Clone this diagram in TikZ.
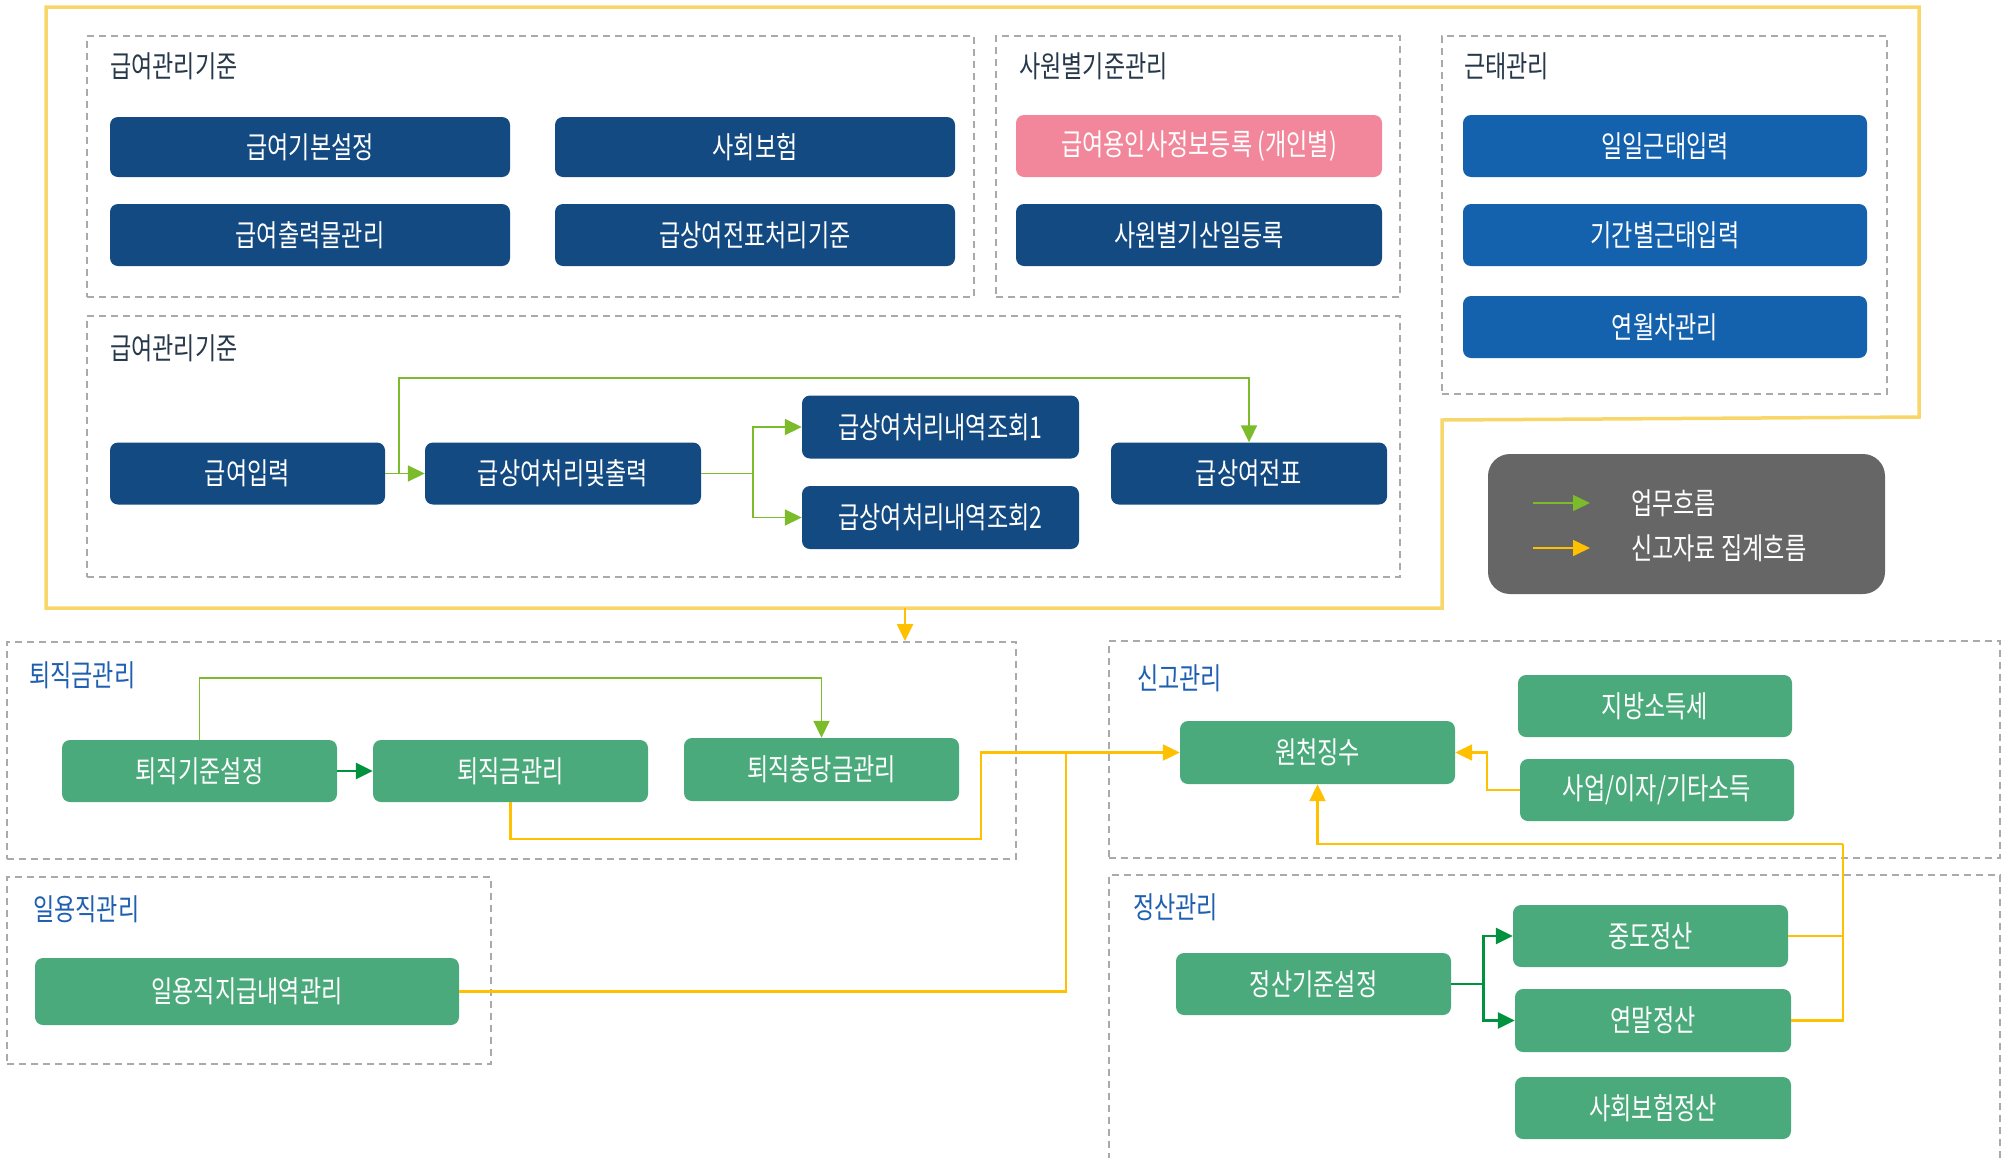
\documentclass[tikz,border=0pt]{standalone}
\usepackage{fontspec}
\setmainfont[FakeStretch=0.77]{Noto Sans CJK KR}
\usetikzlibrary{arrows.meta}
\definecolor{navy}{HTML}{134A82}
\definecolor{bblue}{HTML}{1461AD}
\definecolor{pink}{HTML}{F2879C}
\definecolor{grn}{HTML}{4BAA7C}
\definecolor{lgreen}{HTML}{7CBB2A}
\definecolor{dgreen}{HTML}{00923F}
\definecolor{yel}{HTML}{FFC000}
\definecolor{ybord}{HTML}{F9D66A}
\definecolor{dgray}{HTML}{AAAAAA}
\definecolor{leggray}{HTML}{666666}
\definecolor{ttop}{HTML}{27384A}
\definecolor{tblue}{HTML}{1F5FAF}
\tikzset{
  wh/.style 2 args={minimum width=#1pt, minimum height=#2pt},
  bx/.style={rounded corners=8pt, draw=none, text=white, inner sep=0pt, font=\fontsize{30}{33}\selectfont},
  grp/.style={draw=dgray, dash pattern=on 7pt off 5pt, line width=1.8pt, inner sep=0pt},
  ttl/.style={anchor=west, inner sep=0pt, font=\fontsize{30}{33}\selectfont},
  tip/.style={-{Triangle[length=17pt,width=16pt]}},
  lg/.style={draw=lgreen, line width=1.8pt},
  dg/.style={draw=dgreen, line width=2.6pt},
  ye/.style={draw=yel, line width=2.2pt},
}
\begin{document}
\begin{tikzpicture}[x=1pt,y=-1pt]
\useasboundingbox (0,0) rectangle (2004,1157);
% outer yellow border
\draw[ybord, line width=3.5pt] (46,7) -- (1919,7) -- (1919,417) -- (1442,420) -- (1442,608) -- (46,608) -- cycle;
% groups
\node[grp, wh={887}{261}] (G1) at (530.5,166.5) {};
\node[grp, wh={404}{261}] (G2) at (1198,166.5) {};
\node[grp, wh={1313}{261}] (G3) at (743.5,446.5) {};
\node[grp, wh={445}{358}] (G4) at (1664.5,215) {};
\node[grp, wh={1009}{217}] (G5) at (511.5,750.5) {};
\node[grp, wh={484}{187}] (G6) at (249,970.5) {};
\node[grp, wh={891}{217}] (G7) at (1554.5,749.5) {};
\draw[draw=dgray, dash pattern=on 7pt off 5pt, line width=1.8pt] (1109,1160) -- (1109,875) -- (2000,875) -- (2000,1160);
% titles
\node[ttl, text=ttop] (T1) at (110,66) {급여관리기준};
\node[ttl, text=ttop] (T2) at (1019,66) {사원별기준관리};
\node[ttl, text=ttop] (T3) at (1464,66) {근태관리};
\node[ttl, text=ttop] (T4) at (110,348) {급여관리기준};
\node[ttl, text=tblue] (T5) at (29,675) {퇴직금관리};
\node[ttl, text=tblue] (T6) at (33,909) {일용직관리};
\node[ttl, text=tblue] (T7) at (1137,678) {신고관리};
\node[ttl, text=tblue] (T8) at (1133,907) {정산관리};
% top boxes
\node[bx, fill=navy, wh={400}{60}] (a1) at (310,147) {급여기본설정};
\node[bx, fill=navy, wh={400}{60}] (a2) at (755,147) {사회보험};
\node[bx, fill=navy, wh={400}{62}] (a3) at (310,235) {급여출력물관리};
\node[bx, fill=navy, wh={400}{62}] (a4) at (755,235) {급상여전표처리기준};
\node[bx, fill=pink, wh={366}{62}] (b1) at (1199,146) {급여용인사정보등록 (개인별)};
\node[bx, fill=navy, wh={366}{62}] (b2) at (1199,235) {사원별기산일등록};
\node[bx, fill=bblue, wh={404}{62}] (c1) at (1665,146) {일일근태입력};
\node[bx, fill=bblue, wh={404}{62}] (c2) at (1665,235) {기간별근태입력};
\node[bx, fill=bblue, wh={404}{62}] (c3) at (1665,327) {연월차관리};
% middle
\node[bx, fill=navy, wh={275}{62}] (in) at (247.5,473.5) {급여입력};
\node[bx, fill=navy, wh={276}{62}] (cp) at (563,473.5) {급상여처리및출력};
\node[bx, fill=navy, wh={277}{63}] (q1) at (940.5,427) {급상여처리내역조회1};
\node[bx, fill=navy, wh={277}{63}] (q2) at (940.5,517.5) {급상여처리내역조회2};
\node[bx, fill=navy, wh={276}{62}] (jp) at (1249,473.5) {급상여전표};
% legend
\node[fill=leggray, rounded corners=22pt, wh={397}{140}, inner sep=0pt] (L) at (1686.5,524) {};
\coordinate (la1) at (1533,503);
\coordinate (la2) at (1590,503);
\coordinate (lb1) at (1533,548);
\coordinate (lb2) at (1590,548);
\draw[lg, tip, line width=1.5pt] (la1) -- (la2);
\draw[ye, tip, line width=1.5pt] (lb1) -- (lb2);
\node[ttl, text=white] (l1) at (1631,503) {업무흐름};
\node[ttl, text=white] (l2) at (1631,548) {신고자료 집계흐름};
% bottom left
\node[bx, fill=grn, wh={275}{62}] (r1) at (199.5,771) {퇴직기준설정};
\node[bx, fill=grn, wh={275}{62}] (r2) at (510.5,771) {퇴직금관리};
\node[bx, fill=grn, wh={275}{63}] (r3) at (821.5,769.5) {퇴직충당금관리};
\node[bx, fill=grn, wh={424}{67}] (d1) at (247,991.5) {일용직지급내역관리};
% bottom right
\node[bx, fill=grn, wh={275}{63}] (w) at (1317.5,752.5) {원천징수};
\node[bx, fill=grn, wh={274}{62}] (s1) at (1655,706) {지방소득세};
\node[bx, fill=grn, wh={274}{62}] (s2) at (1657,790) {사업/이자/기타소득};
\node[bx, fill=grn, wh={275}{62}] (s4) at (1313.5,984) {정산기준설정};
\node[bx, fill=grn, wh={275}{62}] (s5) at (1650.5,936) {중도정산};
\node[bx, fill=grn, wh={276}{63}] (s6) at (1653,1020.5) {연말정산};
\node[bx, fill=grn, wh={276}{62}] (s7) at (1653,1108) {사회보험정산};
% connectors: middle
\coordinate (g1) at (399,473.5);
\draw[lg, tip] (in.east) -- (cp.west);
\draw[lg, tip] (g1) -- (399,378) -| (jp.north);
\draw[lg, tip] (cp.east) -- ++(52,0) |- (q1.west);
\draw[lg, tip] (cp.east) -- ++(52,0) |- (q2.west);
% top yellow arrow to retirement group
\coordinate (yt) at (905,608);
\draw[ye, tip] (yt) -- (yt |- G5.north);
% retirement
\draw[dg, tip] (r1.east) -- (r2.west);
\draw[lg, tip] (r1.north) -- ++(0,-62) -| (r3.north);
\coordinate (yk) at (981,839);
\draw[ye, tip] (r2.south) |- (yk) |- (w.west);
\coordinate (yd) at (1066,752.5);
\draw[ye] (d1.east) -| (yd);
% reporting
\draw[ye, tip] (s2.west) -- ++(-33,0) |- (w.east);
\coordinate (yv) at (1843,844);
\draw[ye] (s6.east) -| (yv);
\draw[ye] (s5.east) -- (s5.east -| yv);
\draw[ye, tip] (yv) -| (w.south);
% settlement
\draw[dg, tip] (s4.east) -- ++(32,0) |- (s5.west);
\draw[dg, tip] (s4.east) -- ++(32,0) |- (s6.west);
\end{tikzpicture}
\end{document}
